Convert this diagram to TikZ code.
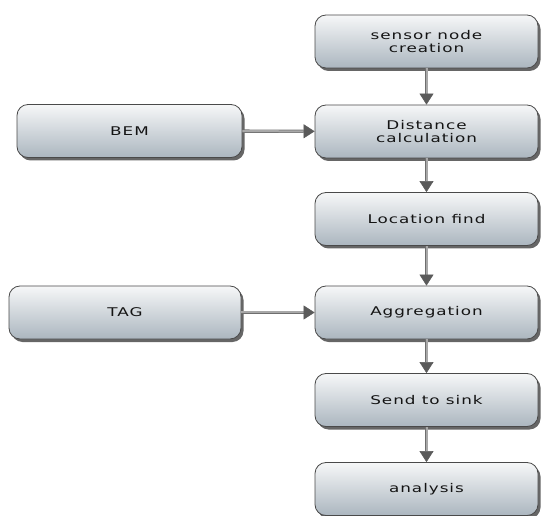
\documentclass[tikz,border=0pt]{standalone}
\usepackage{fontspec}
\setmainfont{DejaVu Sans}[FakeStretch=1.4,LetterSpace=8]
\usetikzlibrary{arrows.meta,shadows}

\definecolor{boxtop}{HTML}{F6F7F8}
\definecolor{boxbot}{HTML}{ABB6BF}
\definecolor{boxline}{HTML}{4A4A4A}
\definecolor{arrline}{HTML}{6E6E6E}
\definecolor{arrmid}{HTML}{A8A8A8}
\definecolor{arrhead}{HTML}{5A5A5A}

\tikzset{
  stage/.style={draw=boxline, line width=0.8pt, rounded corners=11pt,
    top color=boxtop, bottom color=boxbot,
    minimum width=223pt, minimum height=53pt, inner sep=0pt,
    align=center, font=\fontsize{12}{12.5}\selectfont, text=black!92,
    drop shadow={shadow xshift=2.5pt, shadow yshift=-3pt, opacity=0.6, fill=black}},
  flow/.style={draw=arrline, line width=0.7pt, double=arrmid, double distance=2pt,
    -{Triangle[width=14pt,length=11pt,fill=arrhead,color=arrhead,line width=0.5pt]}}
}

\begin{document}
\begin{tikzpicture}
  \useasboundingbox (0,0) rectangle (547pt,-516pt);

  % main column
  \node[stage] (create) at (426.5pt,-41.5pt) {sensor node\\creation};
  \node[stage] (dist) at (426.5pt,-131.5pt) {Distance\\calculation};
  \node[stage] (loc) at (426.5pt,-219pt) {Location find};
  \node[stage] (aggr) at (426.5pt,-312.5pt) {Aggregation};
  \node[stage] (sink) at (426.5pt,-400pt) {Send to sink};
  \node[stage] (anal) at (426.5pt,-489pt) {analysis};

  % side inputs
  \node[stage, minimum width=225pt] (bem) at (129.5pt,-131pt) {BEM};
  \node[stage, minimum width=232pt] (tag) at (125pt,-312.5pt) {TAG};

  \draw[flow] (create) -- (dist);
  \draw[flow] (dist) -- (loc);
  \draw[flow] (loc) -- (aggr);
  \draw[flow] (aggr) -- (sink);
  \draw[flow] (sink) -- (anal);
  \draw[flow] (bem) -- (dist);
  \draw[flow] (tag) -- (aggr);
\end{tikzpicture}
\end{document}
